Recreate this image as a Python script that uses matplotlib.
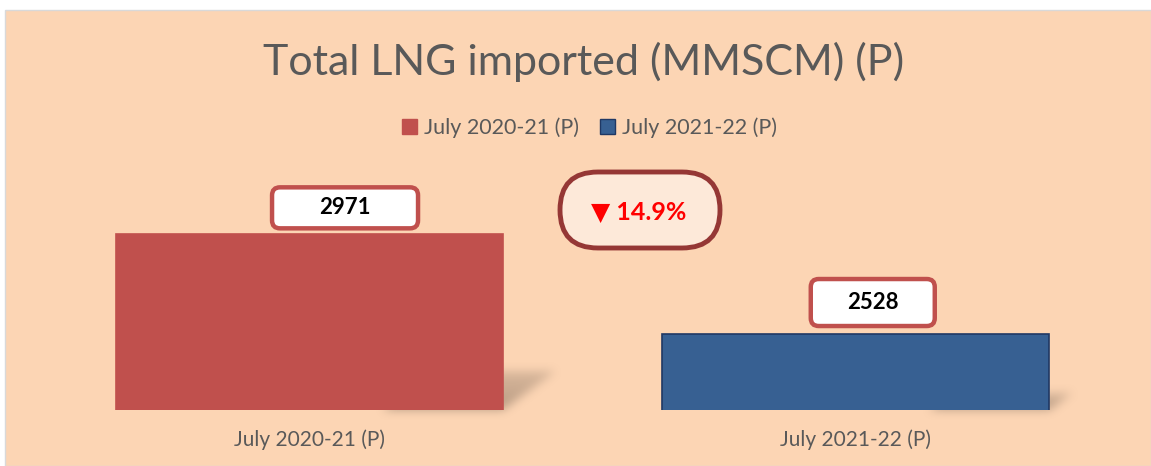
import numpy as np
import matplotlib.pyplot as plt
from matplotlib.patches import Patch, FancyBboxPatch
from matplotlib.transforms import IdentityTransform

# data
categories = ["July 2020-21 (P)", "July 2021-22 (P)"]
values = [2971, 2528]
bar_colors = ["#C0504D", "#376092"]
edge_colors = ["#C0504D", "#1F3864"]

plt.rcParams["font.family"] = ["Lato", "DejaVu Sans"]

fig = plt.figure(figsize=(11.51, 4.66), dpi=100)
fig.patch.set_facecolor("white")

# peach chart area below the thin white strip
bg = plt.Rectangle((0.004, 0), 0.996, 0.978, transform=fig.transFigure,
                   facecolor="#FCD5B4", edgecolor="#D9D9D9", linewidth=1, zorder=-5)
fig.patches.append(bg)

ax = fig.add_axes([0.031, 0.12, 0.95, 0.536])
ax.set_facecolor("none")
x = list(range(len(values)))
width = 0.708
ax.bar(x, values, width=width, color=bar_colors, edgecolor=edge_colors,
       linewidth=1.2, zorder=3)
ax.set_xlim(-0.5, 1.5)
ax.set_ylim(2190, 3300)
ax.set_xticks(x)
ax.set_xticklabels(categories, fontsize=15, color="#595959")
ax.tick_params(axis="x", length=0, pad=14)
ax.set_yticks([])
for s in ax.spines.values():
    s.set_visible(False)

px = IdentityTransform()
ymin = ax.get_ylim()[0]
W, H = int(fig.bbox.width), int(fig.bbox.height)

# soft perspective shadows behind the bars (blurred mask drawn as an image)
gx, gy = np.meshgrid(np.arange(W) + 0.5, np.arange(H) + 0.5)
mask = np.zeros((H, W))
for xi, v in zip(x, values):
    xr, yb = ax.transData.transform((xi + width / 2, ymin))
    _, yt = ax.transData.transform((xi, v))
    h = yt - yb
    dx, dy = 0.30 * h, 0.22 * h
    t = (gy - yb) / dy
    inside = (t >= 0) & (t <= 1) & (gx <= xr + t * dx) & (gx >= xr - 120 + t * dx)
    mask[inside] = np.maximum(mask[inside], 1 - 0.5 * t[inside])
kern = np.ones(9) / 9
for _ in range(3):
    mask = np.apply_along_axis(lambda r: np.convolve(r, kern, mode="same"), 1, mask)
    mask = np.apply_along_axis(lambda c: np.convolve(c, kern, mode="same"), 0, mask)
shadow = np.zeros((H, W, 4))
shadow[..., 0], shadow[..., 1], shadow[..., 2] = 0.50, 0.42, 0.36
shadow[..., 3] = np.clip(mask * 0.55, 0, 1)
fig.figimage(shadow, xo=0, yo=0, origin="lower", zorder=-1)

# value boxes, sized in pixels next to each bar top
box_geo = [(-37, 6, 146, 41), (-45, 8, 124, 47)]
for xi, v, (ox, oy, bw, bh) in zip(x, values, box_geo):
    cx, cy = ax.transData.transform((xi, v))
    box = FancyBboxPatch((cx + ox, cy + oy), bw, bh, boxstyle="round,pad=0,rounding_size=8",
                         transform=px, facecolor="white", edgecolor="#C0504D",
                         linewidth=3.2, zorder=5)
    fig.patches.append(box)
    fig.text((cx + ox + bw / 2) / W, (cy + oy + bh / 2) / H,
             str(v), ha="center", va="center", fontsize=16, fontweight="bold",
             color="black", zorder=6)

# change bubble (pixel coordinates)
bubble = FancyBboxPatch((560, 466 - 248), 160, 76, boxstyle="round,pad=0,rounding_size=38",
                        transform=px, facecolor="#FDE9D9",
                        edgecolor="#953735", linewidth=3.5, zorder=6)
fig.patches.append(bubble)
pct = (values[1] - values[0]) / values[0] * 100
arrow = "\u25BC" if pct < 0 else "\u25B2"
fig.text(0.555, 0.545, f"{arrow} {abs(pct):.1f}%", ha="center", va="center",
         fontsize=18, fontweight="bold", color="#FF0000", zorder=7)

fig.text(0.507, 0.868, "Total LNG imported (MMSCM) (P)", ha="center", va="center",
         fontsize=31, color="#595959")

handles = [Patch(facecolor=c, edgecolor=e) for c, e in zip(bar_colors, edge_colors)]
fig.legend(handles, categories, loc="center", bbox_to_anchor=(0.512, 0.725),
           ncol=2, frameon=False, fontsize=15.5, labelcolor="#595959",
           handlelength=0.7, handleheight=0.7, handletextpad=0.3, columnspacing=1.0)

fig.savefig("out.png", dpi=100)
